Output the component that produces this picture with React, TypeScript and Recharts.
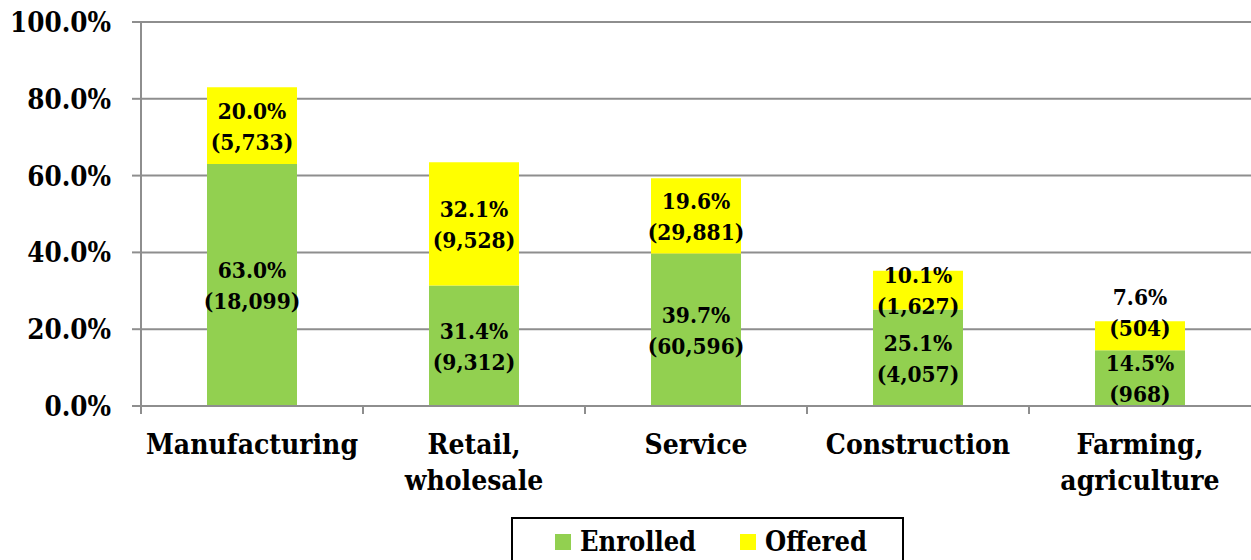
import React from 'react';
import { BarChart, Bar, XAxis, YAxis, CartesianGrid, LabelList } from 'recharts';

const categories = ['Manufacturing', 'Retail, wholesale', 'Service', 'Construction', 'Farming, agriculture'];
const enrolledPct = [63.0, 31.4, 39.7, 25.1, 14.5];
const offeredPct = [20.0, 32.1, 19.6, 10.1, 7.6];
const enrolledCount = [18099, 9312, 60596, 4057, 968];
const offeredCount = [5733, 9528, 29881, 1627, 504];
const yTicks = [0, 20, 40, 60, 80, 100];

const data = categories.map((name, i) => ({
  name,
  enrolled: enrolledPct[i],
  offered: offeredPct[i],
}));

const W = 1251;
const H = 560;
const Y_W = 141;
const X_H = 154;
const TOP = 22;
const AXIS_Y = H - X_H;
const BAND = (W - Y_W) / categories.length;
const GRID = '#8e8e8e';
const FONT = 'DejaVu Serif';
const fontStyle = { fontFamily: FONT, fontStretch: 'condensed', fontWeight: 'bold' } as React.CSSProperties;

const fmt = (n: number) => n.toLocaleString('en-US');

const twoLines = (cx: number, cy: number, a: string, b: string) => (
  <g style={fontStyle}>
    <text x={cx} y={cy - 15} textAnchor="middle" dominantBaseline="central" fontSize={22.5} fill="#000">{a}</text>
    <text x={cx} y={cy + 16} textAnchor="middle" dominantBaseline="central" fontSize={22.5} fill="#000">{b}</text>
  </g>
);

const box = (p: any) => {
  const v = p.viewBox && p.viewBox.width != null ? p.viewBox : p;
  return { x: Number(v.x), y: Number(v.y), w: Number(v.width), h: Number(v.height) };
};

const EnrolledLabel = (p: any) => {
  const { x, y, w, h } = box(p);
  const i = p.index;
  return twoLines(x + w / 2, y + h / 2, `${enrolledPct[i].toFixed(1)}%`, `(${fmt(enrolledCount[i])})`);
};

// Excel nudges the top label up when the segment is too short to hold it
const OfferedLabel = (p: any) => {
  const { x, y, w, h } = box(p);
  const i = p.index;
  const bottom = y + h;
  const enrolledMid = (bottom + AXIS_Y) / 2;
  const cy = Math.min(y + h / 2, enrolledMid - 66);
  return twoLines(x + w / 2, cy, `${offeredPct[i].toFixed(1)}%`, `(${fmt(offeredCount[i])})`);
};

const CategoryTick = (p: any) => {
  const { x, payload } = p;
  const lines = String(payload.value).split(', ').map((s, k, arr) => (k < arr.length - 1 ? s + ',' : s));
  return (
    <g style={fontStyle}>
      <line x1={x - BAND / 2} x2={x - BAND / 2} y1={AXIS_Y} y2={AXIS_Y + 8} stroke={GRID} strokeWidth={2} />
      {lines.map((ln, k) => (
        <text key={k} x={x} y={AXIS_Y + 38 + k * 36} textAnchor="middle" dominantBaseline="central" fontSize={28} fill="#000">
          {ln}
        </text>
      ))}
    </g>
  );
};

const YTick = (p: any) => {
  const { x, y, payload } = p;
  return (
    <text x={x} y={y} textAnchor="end" dominantBaseline="central" fontSize={27.5} fill="#000" style={fontStyle}>
      {`${Number(payload.value).toFixed(1)}%`}
    </text>
  );
};

const legendItems = [
  { name: 'Enrolled', color: '#92D050' },
  { name: 'Offered', color: '#FFFF00' },
];

const App: React.FC = () => {
  return (
    <div style={{ position: 'absolute', left: 0, top: 0, width: W, height: H, background: '#fff', overflow: 'hidden' }}>
      <BarChart width={W} height={H} data={data} margin={{ top: TOP, right: 0, left: 0, bottom: 0 }} barSize={90}>
        <CartesianGrid vertical={false} stroke={GRID} strokeWidth={2} />
        <XAxis
          dataKey="name"
          height={X_H}
          interval={0}
          axisLine={{ stroke: GRID, strokeWidth: 2 }}
          tickLine={false}
          tickSize={0}
          tick={<CategoryTick />}
        />
        <YAxis
          width={Y_W}
          domain={[0, 100]}
          ticks={yTicks}
          interval={0}
          axisLine={{ stroke: GRID, strokeWidth: 2 }}
          tickLine={{ stroke: GRID, strokeWidth: 2 }}
          tickSize={9}
          tickMargin={21}
          tick={<YTick />}
        />
        <Bar dataKey="enrolled" stackId="a" fill="#92D050" isAnimationActive={false}>
          <LabelList dataKey="enrolled" content={<EnrolledLabel />} />
        </Bar>
        <Bar dataKey="offered" stackId="a" fill="#FFFF00" isAnimationActive={false}>
          <LabelList dataKey="offered" content={<OfferedLabel />} />
        </Bar>
      </BarChart>
      {/* y-axis runs past the baseline like the category ticks */}
      <div style={{ position: 'absolute', left: Y_W - 1, top: AXIS_Y, width: 2, height: 8, background: GRID }} />
      <div
        style={{
          ...fontStyle,
          position: 'absolute',
          left: 511,
          top: 517,
          width: 393,
          height: 60,
          boxSizing: 'border-box',
          border: '2px solid #000',
          display: 'flex',
          alignItems: 'flex-start',
          paddingTop: 6,
          paddingLeft: 42,
          fontSize: 27,
        }}
      >
        {legendItems.map((it, k) => (
          <div key={it.name} style={{ display: 'flex', alignItems: 'center', marginRight: k === 0 ? 44 : 0 }}>
            <span style={{ display: 'inline-block', width: 16, height: 16, background: it.color, marginRight: 9 }} />
            <span style={{ lineHeight: '34px' }}>{it.name}</span>
          </div>
        ))}
      </div>
    </div>
  );
};

export default App;
